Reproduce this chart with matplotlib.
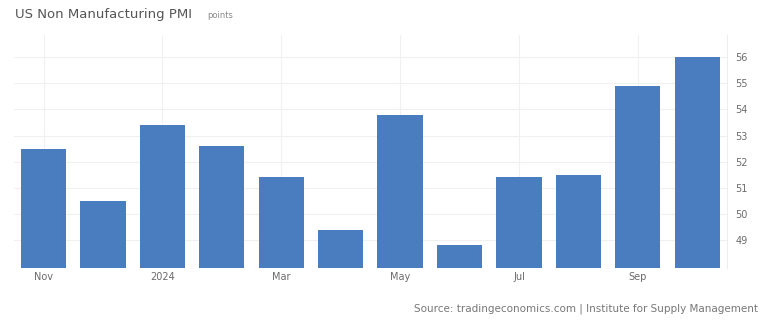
import numpy as np
import matplotlib.pyplot as plt

# Monthly readings, Nov 2023 - Oct 2024
months = ['Nov', 'Dec', '2024', 'Feb', 'Mar', 'Apr', 'May', 'Jun', 'Jul', 'Aug', 'Sep', 'Oct']
pmi = [52.5, 50.5, 53.4, 52.6, 51.4, 49.4, 53.8, 48.8, 51.4, 51.5, 54.9, 56.0]
y_ticks = [49, 50, 51, 52, 53, 54, 55, 56]

bar_color = '#4a7cc0'
text_color = '#6b6b6b'

fig = plt.figure(figsize=(7.66, 3.27), dpi=100)
ax = fig.add_axes([0.018, 0.180, 0.931, 0.713])

x = np.arange(len(months))
ax.bar(x, pmi, width=0.76, color=bar_color, zorder=2)

ax.set_xlim(-0.5, len(months) - 0.5)
ax.set_ylim(47.93, 56.85)

# only every other month gets a label
ax.set_xticks(x[::2])
ax.set_xticklabels(months[::2], fontsize=7, color=text_color)
ax.set_yticks(y_ticks)
ax.set_yticklabels([str(v) for v in y_ticks], fontsize=7, color=text_color)
ax.yaxis.tick_right()
ax.tick_params(axis='y', length=0, pad=6)
ax.tick_params(axis='x', length=0, pad=3)

ax.grid(True, color='#f0f0f0', linewidth=0.8, zorder=0)
for side in ['top', 'left', 'bottom']:
    ax.spines[side].set_visible(False)
ax.spines['right'].set_color('#eeeeee')

fig.text(0.020, 0.955, 'US Non Manufacturing PMI', fontsize=9.5, color='#555555', va='center')
fig.text(0.270, 0.953, 'points', fontsize=6, color='#888888', va='center')
fig.text(0.990, 0.055, 'Source: tradingeconomics.com | Institute for Supply Management',
         fontsize=7.5, color='#777777', ha='right', va='center')

fig.savefig('out.png', dpi=100)
